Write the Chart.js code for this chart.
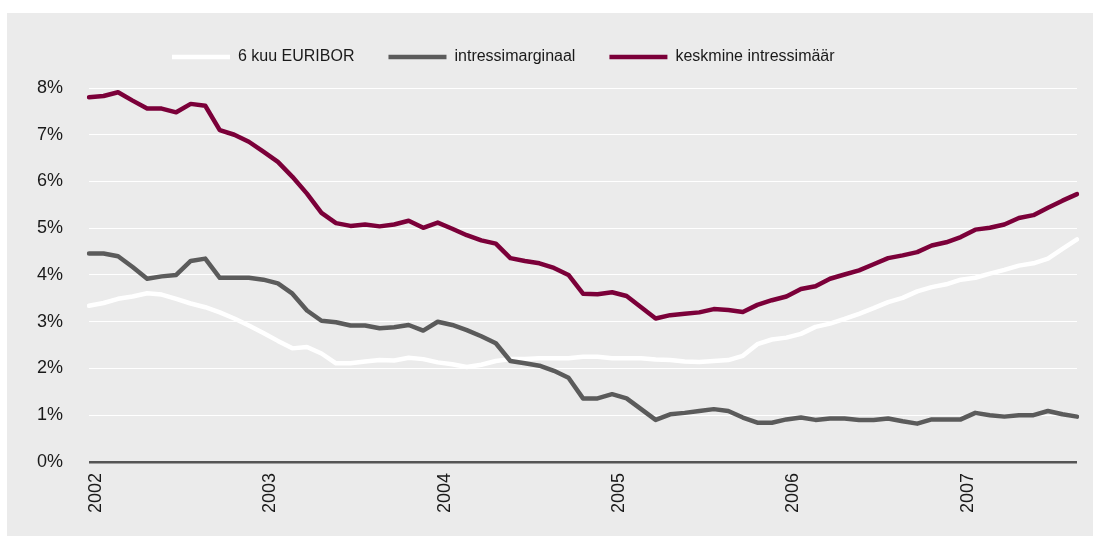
<!DOCTYPE html>
<html>
<head>
<meta charset="utf-8">
<script src="https://cdn.jsdelivr.net/npm/chart.js@4/dist/chart.umd.min.js"></script>
<style>
  html, body { margin: 0; padding: 0; background: #fff; }
  #panel { position: absolute; left: 7px; top: 13px; width: 1086px; height: 523px; background: #ebebeb; }
  #chart { display: block; }
</style>
</head>
<body>
<div id="panel"><canvas id="chart" width="1086" height="523"></canvas></div>
<script>
// monthly, Jan 2002 - Sep 2007
var years = ["2002", "2003", "2004", "2005", "2006", "2007"];
var monthCount = 69;

var euribor = [
    3.34, 3.40, 3.49, 3.54, 3.61, 3.58, 3.49, 3.39, 3.31, 3.20, 3.07, 2.92,
    2.76, 2.59, 2.43, 2.46, 2.32, 2.11, 2.11, 2.15, 2.18, 2.17, 2.23, 2.20,
    2.13, 2.09, 2.03, 2.08, 2.16, 2.20, 2.20, 2.22, 2.22, 2.22, 2.25, 2.25,
    2.22, 2.22, 2.22, 2.19, 2.18, 2.15, 2.14, 2.16, 2.18, 2.27, 2.52, 2.62,
    2.66, 2.74, 2.89, 2.96, 3.06, 3.17, 3.29, 3.42, 3.51, 3.65, 3.74, 3.80,
    3.90, 3.94, 4.03, 4.11, 4.20, 4.25, 4.35, 4.56, 4.76
];
var marginaal = [
    4.46, 4.46, 4.40, 4.17, 3.92, 3.97, 4.00, 4.30, 4.35, 3.94, 3.94, 3.94,
    3.90, 3.82, 3.60, 3.24, 3.02, 2.99, 2.92, 2.92, 2.86, 2.88, 2.93, 2.81,
    3.00, 2.93, 2.82, 2.69, 2.54, 2.16, 2.11, 2.06, 1.95, 1.80, 1.36, 1.36,
    1.45, 1.36, 1.13, 0.90, 1.02, 1.05, 1.09, 1.13, 1.09, 0.95, 0.84, 0.84,
    0.91, 0.95, 0.90, 0.93, 0.93, 0.90, 0.90, 0.93, 0.87, 0.82, 0.91, 0.91,
    0.91, 1.05, 1.00, 0.97, 1.00, 1.00, 1.09, 1.02, 0.97
];
var keskmine = [
    7.80, 7.83, 7.91, 7.73, 7.56, 7.56, 7.48, 7.66, 7.62, 7.10, 7.00, 6.85,
    6.64, 6.42, 6.10, 5.74, 5.33, 5.11, 5.05, 5.08, 5.04, 5.08, 5.16, 5.01,
    5.12, 4.99, 4.85, 4.74, 4.67, 4.36, 4.30, 4.25, 4.15, 4.00, 3.60, 3.59,
    3.63, 3.55, 3.31, 3.07, 3.14, 3.17, 3.20, 3.27, 3.25, 3.21, 3.36, 3.46,
    3.54, 3.70, 3.76, 3.92, 4.01, 4.10, 4.23, 4.36, 4.42, 4.49, 4.63, 4.70,
    4.81, 4.97, 5.01, 5.08, 5.22, 5.28, 5.44, 5.59, 5.73
];

var labels = [];
for (var i = 0; i < monthCount; i++) {
    var m = (i % 12) + 1;
    labels.push(years[Math.floor(i / 12)] + "-" + (m < 10 ? "0" + m : m));
}

var fontFamily = "'Liberation Sans', Arial, Helvetica, sans-serif";

// legend sits left of centre and has extra room below it
var legendPlace = {
    id: "legendPlace",
    beforeInit: function(chart) {
        var fit = chart.legend.fit;
        chart.legend.fit = function() { fit.call(this); this.height += 13; };
    },
    afterLayout: function(chart) {
        chart.legend.left = 165 - 34;
    }
};

function line(label, data, color, order) {
    return {
        label: label, data: data, borderColor: color, backgroundColor: color,
        borderWidth: 4.5, pointRadius: 0, tension: 0, order: order,
        borderCapStyle: "round", borderJoinStyle: "round", fill: false
    };
}

new Chart(document.getElementById("chart"), {
    type: "line",
    data: {
        labels: labels,
        datasets: [
            line("6 kuu EURIBOR", euribor, "#ffffff", 2),
            line("intressimarginaal", marginaal, "#5b5b5b", 0),
            line("keskmine intressimäär", keskmine, "#7b0039", 1)
        ]
    },
    options: {
        responsive: false,
        animation: false,
        layout: { padding: { top: 2, left: 4, right: 16, bottom: 20 } },
        scales: {
            x: {
                offset: false,
                grid: { display: false },
                border: { display: false },
                afterFit: function(scale) { scale.paddingRight = 0; },
                ticks: {
                    autoSkip: false, maxRotation: 90, minRotation: 90,
                    padding: 3, labelOffset: 7, color: "#1a1a1a",
                    font: { family: fontFamily, size: 18 },
                    callback: function(v, i) { return i % 12 === 0 ? years[i / 12] : ""; }
                }
            },
            y: {
                min: 0, max: 8,
                border: { display: false },
                grid: {
                    drawTicks: false,
                    color: function(ctx) { return ctx.tick && ctx.tick.value === 0 ? "#555555" : "#ffffff"; },
                    lineWidth: function(ctx) { return ctx.tick && ctx.tick.value === 0 ? 2.5 : 1; }
                },
                ticks: {
                    stepSize: 1, padding: 26, color: "#1a1a1a",
                    font: { family: fontFamily, size: 18 },
                    callback: function(v) { return v + "%"; }
                }
            }
        },
        plugins: {
            legend: {
                position: "top", align: "start",
                labels: {
                    usePointStyle: true, pointStyle: "line", pointStyleWidth: 58,
                    padding: 34, color: "#1a1a1a",
                    font: { family: fontFamily, size: 16 },
                    sort: function(a, b) { return a.datasetIndex - b.datasetIndex; }
                }
            },
            tooltip: { enabled: false }
        }
    },
    plugins: [legendPlace]
});
</script>
</body>
</html>
